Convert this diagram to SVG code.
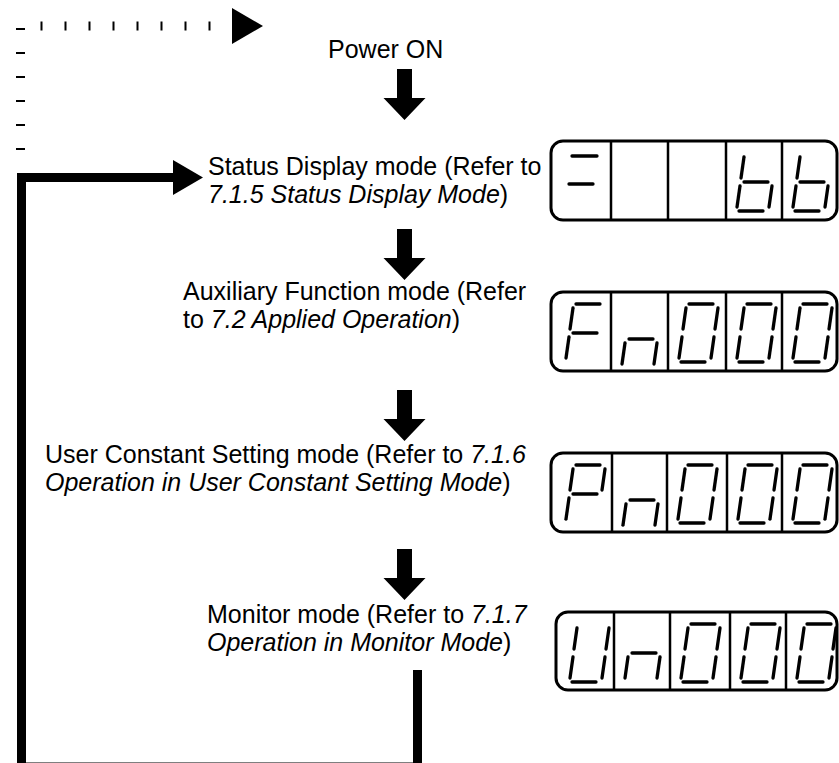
<svg xmlns="http://www.w3.org/2000/svg" xmlns:xlink="http://www.w3.org/1999/xlink" width="839" height="763" viewBox="0 0 839 763">
<style>
text{font-family:"Liberation Sans",Arial,sans-serif;font-size:25px;fill:#000}
.it{font-style:italic}
.frame{fill:#fff;stroke:#000;stroke-width:3}
.div{stroke:#000;stroke-width:2.5}
.seg{fill:none;stroke:#000;stroke-width:3.3;stroke-linecap:round}
.wire{fill:none;stroke:#000;stroke-width:9}
.dot{fill:none;stroke:#000;stroke-width:9;stroke-dasharray:2 22}
.head{fill:#000}
</style>
<defs>
<path id="sA" class="seg" d="M21 12H45"/>
<path id="sF" class="seg" d="M18 16L15 37"/>
<path id="sB" class="seg" d="M50 16L47 37"/>
<path id="sG" class="seg" d="M18 41H42"/>
<path id="sE" class="seg" d="M14 45L11 66"/>
<path id="sC" class="seg" d="M46 45L43 66"/>
<path id="sD" class="seg" d="M13 70H37"/>
<g id="d0"><use href="#sA"/><use href="#sF"/><use href="#sB"/><use href="#sE"/><use href="#sC"/><use href="#sD"/></g>
<g id="dF"><use href="#sA"/><use href="#sF"/><use href="#sG"/><use href="#sE"/></g>
<g id="dP"><use href="#sA"/><use href="#sF"/><use href="#sB"/><use href="#sG"/><use href="#sE"/></g>
<g id="dU"><use href="#sF"/><use href="#sB"/><use href="#sE"/><use href="#sC"/><use href="#sD"/></g>
<g id="dn"><use href="#sG"/><use href="#sE"/><use href="#sC"/></g>
<g id="db"><use href="#sF"/><use href="#sG"/><use href="#sE"/><use href="#sC"/><use href="#sD"/></g>
<path id="down" class="head" d="M-7.5 0H7.5V29H21L0 51L-21 29H-7.5Z"/>
</defs>

<g id="connectors">
<path class="dot" d="M20.5 150V26H232"/>
<polygon class="head" points="232,8 263,26 232,44"/>
<use href="#down" x="404.5" y="69"/>
<use href="#down" x="404.5" y="229"/>
<use href="#down" x="404.5" y="390"/>
<use href="#down" x="404.5" y="549"/>
<path class="wire" d="M417.5 670V767H21.5V177.5H175"/>
<polygon class="head" points="173,160 203,177.5 173,195"/>
</g>

<g id="power-on">
<text x="328" y="58">Power ON</text>
</g>

<g id="status-mode">
<text x="208" y="175">Status Display mode (Refer to</text>
<text x="208" y="203"><tspan class="it">7.1.5 Status Display Mode</tspan>)</text>
</g>

<g id="aux-mode">
<text x="183" y="300">Auxiliary Function mode (Refer</text>
<text x="183" y="328">to <tspan class="it">7.2 Applied Operation</tspan>)</text>
</g>

<g id="user-mode">
<text x="45" y="463">User Constant Setting mode (Refer to <tspan class="it">7.1.6</tspan></text>
<text x="45" y="491"><tspan class="it">Operation in User Constant Setting Mode</tspan>)</text>
</g>

<g id="monitor-mode">
<text x="207" y="623">Monitor mode (Refer to <tspan class="it">7.1.7</tspan></text>
<text x="207" y="651"><tspan class="it">Operation in Monitor Mode</tspan>)</text>
</g>

<g id="display-status">
<rect class="frame" x="551" y="141" width="286" height="79" rx="12"/>
<path class="div" d="M611 141V220M668 141V220M726 141V220M782 141V220"/>
<path class="seg" d="M572 156H597M569 184H593"/>
<use href="#db" x="726" y="141"/>
<use href="#db" x="782" y="141"/>
</g>

<g id="display-aux">
<rect class="frame" x="551" y="292" width="286" height="79" rx="12"/>
<path class="div" d="M611 292V371M668 292V371M726 292V371M782 292V371"/>
<use href="#dF" x="555" y="292"/>
<use href="#dn" x="611" y="298"/>
<use href="#d0" x="668" y="292"/>
<use href="#d0" x="726" y="292"/>
<use href="#d0" x="782" y="292"/>
</g>

<g id="display-user">
<rect class="frame" x="551" y="453" width="286" height="79" rx="12"/>
<path class="div" d="M612 453V532M667 453V532M727 453V532M782 453V532"/>
<use href="#dP" x="555" y="453"/>
<use href="#dn" x="612" y="459"/>
<use href="#d0" x="667" y="453"/>
<use href="#d0" x="727" y="453"/>
<use href="#d0" x="782" y="453"/>
</g>

<g id="display-monitor">
<rect class="frame" x="556" y="612" width="281" height="78" rx="12"/>
<path class="div" d="M614 612V690M670 612V690M730 612V690M786 612V690"/>
<use href="#dU" x="559" y="612"/>
<use href="#dn" x="614" y="612"/>
<use href="#d0" x="670" y="612"/>
<use href="#d0" x="730" y="612"/>
<use href="#d0" x="786" y="612"/>
</g>
</svg>
